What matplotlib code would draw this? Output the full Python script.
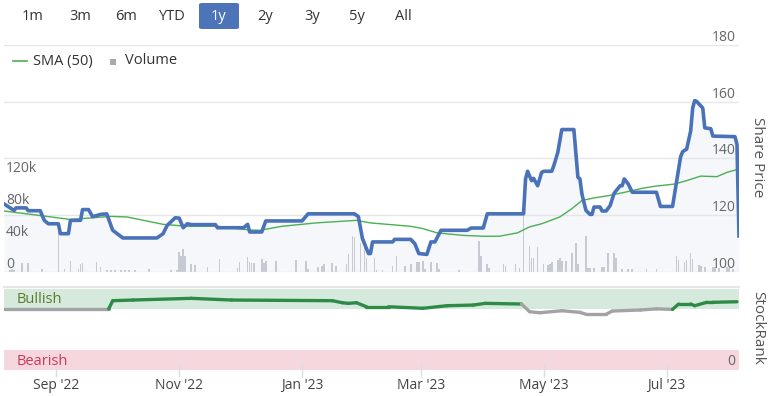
import matplotlib
matplotlib.use("Agg")
import matplotlib.pyplot as plt
import matplotlib.dates as mdates
from matplotlib.patches import FancyBboxPatch, Rectangle
from matplotlib.lines import Line2D
import pandas as pd

# ---- data ----
price_dates = [
    "2022-08-06", "2022-08-11", "2022-08-12", "2022-08-17", "2022-08-18", "2022-08-24",
    "2022-08-26", "2022-08-28", "2022-09-02", "2022-09-03", "2022-09-07", "2022-09-08",
    "2022-09-13", "2022-09-14", "2022-09-17", "2022-09-19", "2022-09-23", "2022-09-26",
    "2022-09-29", "2022-10-04", "2022-10-21", "2022-10-24", "2022-10-26", "2022-10-30",
    "2022-11-01", "2022-11-03", "2022-11-05", "2022-11-07", "2022-11-19", "2022-11-20",
    "2022-12-03", "2022-12-05", "2022-12-06", "2022-12-12", "2022-12-14", "2023-01-01",
    "2023-01-04", "2023-01-27", "2023-01-29", "2023-01-31", "2023-02-03", "2023-02-04",
    "2023-02-05", "2023-02-15", "2023-02-16", "2023-02-24", "2023-02-26", "2023-02-28",
    "2023-03-04", "2023-03-06", "2023-03-08", "2023-03-11", "2023-03-24", "2023-03-26",
    "2023-04-01", "2023-04-03", "2023-04-21", "2023-04-22", "2023-04-23", "2023-04-25",
    "2023-04-26", "2023-04-28", "2023-04-30", "2023-05-01", "2023-05-05", "2023-05-06",
    "2023-05-08", "2023-05-10", "2023-05-16", "2023-05-18", "2023-05-19", "2023-05-20",
    "2023-05-22", "2023-05-24", "2023-05-25", "2023-05-26", "2023-05-29", "2023-05-30",
    "2023-06-01", "2023-06-03", "2023-06-05", "2023-06-08", "2023-06-09", "2023-06-10",
    "2023-06-12", "2023-06-14", "2023-06-26", "2023-06-28", "2023-07-04", "2023-07-05",
    "2023-07-08", "2023-07-09", "2023-07-11", "2023-07-13", "2023-07-14", "2023-07-15",
    "2023-07-16", "2023-07-19", "2023-07-20", "2023-07-23", "2023-07-24", "2023-08-04",
    "2023-08-05", "2023-08-06",
]
price_values = [
    124.0, 121.7, 122.6, 122.6, 121.6, 121.6,
    118.2, 117.0, 117.0, 113.5, 113.5, 118.2,
    118.2, 122.0, 122.0, 119.5, 120.3, 120.5,
    114.7, 112.0, 112.0, 113.5, 116.4, 119.1,
    119.0, 115.6, 117.0, 116.7, 116.7, 115.6,
    115.6, 116.8, 114.1, 114.1, 118.0, 118.0,
    120.5, 120.5, 119.5, 111.8, 106.5, 106.5,
    110.6, 110.6, 111.5, 111.5, 110.0, 106.5,
    106.2, 110.6, 110.6, 114.7, 114.7, 115.5,
    115.5, 120.5, 120.5, 132.8, 135.5, 132.2,
    133.0, 130.4, 135.1, 135.5, 135.5, 137.4,
    142.1, 150.2, 150.2, 133.4, 132.8, 127.5,
    121.7, 120.3, 120.3, 122.9, 122.9, 121.5,
    121.5, 123.4, 127.8, 130.4, 130.4, 132.8,
    131.0, 128.1, 128.1, 123.1, 123.1, 127.5,
    140.6, 142.4, 143.3, 149.7, 157.8, 160.4,
    160.1, 157.8, 150.8, 150.5, 147.9, 147.7,
    145.0, 112.7,
]

sma_dates = [
    "2022-08-06", "2022-08-24", "2022-09-08", "2022-09-28", "2022-10-06", "2022-10-24",
    "2022-11-05", "2022-11-20", "2022-12-06", "2022-12-11", "2022-12-22", "2023-01-08",
    "2023-01-28", "2023-02-04", "2023-02-24", "2023-03-02", "2023-03-09", "2023-03-22",
    "2023-04-01", "2023-04-09", "2023-04-18", "2023-04-24", "2023-04-30", "2023-05-09",
    "2023-05-15", "2023-05-20", "2023-05-26", "2023-06-02", "2023-06-09", "2023-06-19",
    "2023-06-25", "2023-07-05", "2023-07-11", "2023-07-18", "2023-07-26", "2023-07-31",
    "2023-08-06",
]
sma_values = [
    121.5, 119.9, 118.5, 119.6, 119.4, 116.8,
    116.1, 116.1, 114.8, 114.7, 116.1, 117.3,
    118.2, 117.3, 116.1, 115.3, 113.8, 112.9,
    112.6, 112.6, 113.8, 115.9, 117.0, 119.4,
    122.3, 125.2, 126.1, 126.9, 127.9, 129.5,
    130.2, 131.0, 132.2, 133.8, 133.6, 135.1,
    136.3,
]

vol_dates = [
    "2022-08-09", "2022-08-10", "2022-08-11", "2022-08-15", "2022-08-18", "2022-08-25",
    "2022-09-02", "2022-09-05", "2022-09-08", "2022-09-12", "2022-09-13", "2022-09-14",
    "2022-09-21", "2022-09-23", "2022-09-26", "2022-09-28", "2022-09-30", "2022-10-03",
    "2022-10-05", "2022-10-07", "2022-10-10", "2022-10-17", "2022-10-28", "2022-10-31",
    "2022-11-01", "2022-11-02", "2022-11-03", "2022-11-04", "2022-11-07", "2022-11-09",
    "2022-11-15", "2022-11-21", "2022-11-30", "2022-12-01", "2022-12-05", "2022-12-06",
    "2022-12-07", "2022-12-08", "2022-12-12", "2022-12-13", "2022-12-14", "2022-12-19",
    "2022-12-29", "2023-01-03", "2023-01-04", "2023-01-09", "2023-01-11", "2023-01-12",
    "2023-01-16", "2023-01-18", "2023-01-23", "2023-01-24", "2023-01-26", "2023-01-27",
    "2023-01-30", "2023-02-01", "2023-02-02", "2023-02-06", "2023-02-07", "2023-02-10",
    "2023-02-15", "2023-02-17", "2023-02-21", "2023-02-24", "2023-02-27", "2023-02-28",
    "2023-03-02", "2023-03-03", "2023-03-06", "2023-03-09", "2023-03-10", "2023-03-20",
    "2023-03-30", "2023-03-31", "2023-04-03", "2023-04-04", "2023-04-11", "2023-04-12",
    "2023-04-17", "2023-04-19", "2023-04-21", "2023-04-24", "2023-04-25", "2023-04-26",
    "2023-04-28", "2023-05-01", "2023-05-03", "2023-05-04", "2023-05-05", "2023-05-08",
    "2023-05-09", "2023-05-10", "2023-05-12", "2023-05-15", "2023-05-17", "2023-05-18",
    "2023-05-22", "2023-05-23", "2023-05-24", "2023-05-26", "2023-05-30", "2023-05-31",
    "2023-06-02", "2023-06-05", "2023-06-06", "2023-06-09", "2023-06-12", "2023-06-14",
    "2023-06-21", "2023-06-26", "2023-07-06", "2023-07-07", "2023-07-10", "2023-07-11",
    "2023-07-13", "2023-07-14", "2023-07-17", "2023-07-18", "2023-07-20", "2023-07-24",
    "2023-07-25", "2023-07-27", "2023-07-31", "2023-08-01", "2023-08-03",
]
vol_values = [
    2500, 3800, 2500, 11000, 11000, 3800,
    59000, 3800, 14000, 3800, 10000, 11000,
    12500, 6000, 2500, 2500, 2500, 2500,
    2500, 2500, 2500, 3800, 2500, 2500,
    25000, 20000, 29000, 20000, 10000, 9000,
    6000, 16000, 5000, 12500, 19000, 12500,
    11000, 11000, 16000, 11000, 14000, 14000,
    15000, 14000, 3800, 6000, 7500, 10000,
    11000, 7500, 10000, 22500, 45000, 44000,
    36000, 41000, 17500, 17500, 2500, 2500,
    7500, 20000, 7500, 10000, 12500, 12500,
    14000, 3800, 12500, 11000, 3800, 2500,
    39000, 20000, 10000, 5000, 10000, 7500,
    10000, 5000, 71000, 32500, 17500, 17500,
    31000, 10000, 9000, 10000, 12500, 15000,
    17500, 14000, 14000, 24000, 36000, 10000,
    45000, 5000, 5000, 5000, 6000, 6000,
    24000, 24000, 17500, 3800, 3800, 3800,
    3800, 3800, 20000, 15000, 12500, 15000,
    24000, 16000, 9000, 7500, 6000, 6000,
    6000, 5000, 6000, 5000, 3800,
]

rank_dates = [
    "2022-08-06", "2022-09-27", "2022-09-29", "2022-10-09", "2022-11-07", "2022-11-27",
    "2023-01-16", "2023-01-21", "2023-01-24", "2023-01-28", "2023-02-02", "2023-02-13",
    "2023-03-02", "2023-03-14", "2023-03-27", "2023-04-02", "2023-04-20", "2023-04-24",
    "2023-04-29", "2023-05-10", "2023-05-19", "2023-05-22", "2023-06-01", "2023-06-04",
    "2023-06-18", "2023-06-26", "2023-07-04", "2023-07-07", "2023-07-13", "2023-07-15",
    "2023-07-21", "2023-07-24", "2023-08-05",
]
rank_values = [
    75.5, 75.5, 85.6, 86.4, 88.5, 86.4,
    85.6, 83.1, 82.3, 83.1, 78.1, 78.1,
    76.2, 79.4, 80.2, 82.3, 81.5, 72.0,
    70.7, 73.2, 71.2, 68.8, 68.8, 72.8,
    74.1, 75.5, 74.9, 81.5, 81.5, 79.4,
    83.6, 83.6, 84.3,
]
rank_bullish = [
    False, False, True, True, True, True,
    True, True, True, True, True, True,
    True, True, True, True, True, False,
    False, False, False, False, False, False,
    False, False, False, True, True, True,
    True, True, True,
]

range_buttons = ["1m", "3m", "6m", "YTD", "1y", "2y", "3y", "5y", "All"]
selected_range = "1y"
price_ticks = [100, 120, 140, 160, 180]
vol_ticks = [0, 40000, 80000, 120000]
date_ticks = ["2022-09-01", "2022-11-01", "2023-01-01", "2023-03-01", "2023-05-01", "2023-07-01"]

price_dates = pd.to_datetime(price_dates)
sma_dates = pd.to_datetime(sma_dates)
vol_dates = pd.to_datetime(vol_dates)
rank_dates = pd.to_datetime(rank_dates)
x_start, x_end = pd.Timestamp("2022-08-06"), pd.Timestamp("2023-08-06")

plt.rcParams["font.family"] = ["Open Sans", "DejaVu Sans"]

BLUE = "#4a72b8"
GREEN_SMA = "#4caf50"
GRID = "#e6e6e6"
LABEL = "#666666"

fig = plt.figure(figsize=(7.72, 3.96), dpi=100)
W, H = 772, 396


def box(x0, y_top, x1, y_bot):
    # pixel box -> figure fraction rect
    return [x0 / W, 1 - y_bot / H, (x1 - x0) / W, (y_bot - y_top) / H]


# volume (behind) and price (front) share the same area
ax_vol = fig.add_axes(box(4, 45, 739, 272))
ax = fig.add_axes(box(4, 45, 739, 272), sharex=ax_vol)
ax.patch.set_alpha(0)

ax_vol.bar(vol_dates, vol_values, width=0.8, color="#cdcfd5", linewidth=0)
ax_vol.set_ylim(0, 284000)
for v in vol_ticks:
    ax_vol.text(0.003, v, f"{v // 1000}k" if v else "0", transform=ax_vol.get_yaxis_transform(),
                ha="left", va="bottom", color=LABEL, fontsize=10)

ax.fill_between(price_dates, price_values, 100, color=BLUE, alpha=0.05, linewidth=0)
ax.plot(sma_dates, sma_values, color=GREEN_SMA, lw=1.0)
ax.plot(price_dates, price_values, color=BLUE, lw=2.6, solid_joinstyle="round")
ax.set_ylim(100, 180)
ax.set_yticks(price_ticks)
ax.grid(axis="y", color=GRID, lw=1)
for p in price_ticks:
    ax.text(0.995, p, str(p), transform=ax.get_yaxis_transform(),
            ha="right", va="bottom", color=LABEL, fontsize=10)

for a in (ax, ax_vol):
    a.set_xlim(x_start, x_end)
    for s in a.spines.values():
        s.set_visible(False)
    a.tick_params(left=False, right=False, bottom=False, labelleft=False, labelbottom=False)

# StockRank panel
axr = fig.add_axes(box(4, 287, 739, 370))
axr.set_xlim(x_start, x_end)
axr.set_ylim(0, 102.5)
axr.axhspan(75, 100, color="#d6e9dd", lw=0)
axr.axhspan(0, 25, color="#f6d7dd", lw=0)
axr.axhline(102.5, color=GRID, lw=1.5, clip_on=False)
for i in range(len(rank_values) - 1):
    col = "#2e8b47" if rank_bullish[i + 1] else "#a3a3a3"
    axr.plot(rank_dates[i:i + 2], rank_values[i:i + 2], color=col, lw=2.4, solid_capstyle="round")
axr.text(0.0177, 87.5, "Bullish", color="#5b7a2c", va="center", ha="left", fontsize=10.5,
         transform=axr.get_yaxis_transform())
axr.text(0.0177, 10, "Bearish", color="#cc3a5a", va="center", ha="left", fontsize=10.5,
         transform=axr.get_yaxis_transform())
axr.text(0.995, 10, "0", color=LABEL, va="center", ha="right", fontsize=10,
         transform=axr.get_yaxis_transform())
for s in axr.spines.values():
    s.set_visible(False)
axr.set_yticks([])
axr.set_xticks(pd.to_datetime(date_ticks))
axr.xaxis.set_major_formatter(mdates.DateFormatter("%b '%y"))
axr.tick_params(axis="x", direction="inout", length=10, width=1, color="#d8dde6",
                labelcolor="#444444", labelsize=10, pad=1)

# right-hand axis titles
fig.text(758 / W, 1 - 157 / H, "Share Price", rotation=270, ha="center", va="center",
         color="#555555", fontsize=11)
fig.text(758 / W, 1 - 328 / H, "StockRank", rotation=270, ha="center", va="center",
         color="#555555", fontsize=11)

# range selector buttons
btn_x = [33, 80, 126, 172, 219, 265, 312, 357, 403]
for lbl, bx in zip(range_buttons, btn_x):
    if lbl == selected_range:
        fig.patches.append(FancyBboxPatch((199 / W, 1 - 29 / H), 40 / W, 26 / H,
                                          boxstyle="round,pad=0,rounding_size=0.004",
                                          transform=fig.transFigure, facecolor="#4d73b9",
                                          edgecolor="none"))
        fig.text(bx / W, 1 - 17 / H, lbl, ha="center", va="center", color="white", fontsize=10.5)
    else:
        fig.text(bx / W, 1 - 17 / H, lbl, ha="center", va="center", color="#333333", fontsize=10.5)

# legend
fig.add_artist(Line2D([13 / W, 27 / W], [1 - 61 / H] * 2, color=GREEN_SMA, lw=1.2))
fig.text(33 / W, 1 - 61 / H, "SMA (50)", ha="left", va="center", color="#333333", fontsize=10.5)
fig.patches.append(Rectangle((110 / W, 1 - 65 / H), 6 / W, 6 / H, transform=fig.transFigure,
                             facecolor="#a9aab0", edgecolor="none"))
fig.text(125 / W, 1 - 61 / H, "Volume", ha="left", va="center", color="#333333", fontsize=10.5)

fig.savefig("out.png", dpi=100)
plt.close(fig)
